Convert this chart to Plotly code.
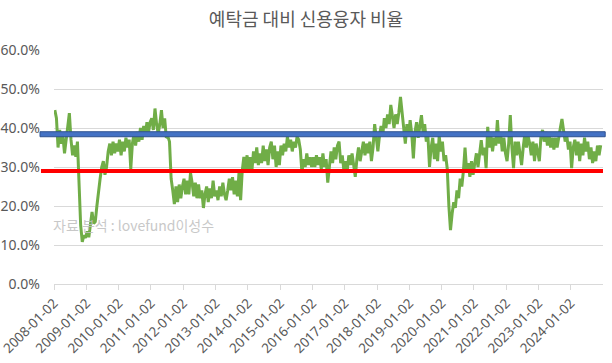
import plotly.graph_objects as go
import pandas as pd

# ---- data (credit loan / customer deposit ratio, %) ----
title_text = "예탁금 대비 신용융자 비율"
source_text = "자료 분석 : lovefund이성수"

tick_labels = ["2008-01-02", "2009-01-02", "2010-01-02", "2011-01-02", "2012-01-02",
               "2013-01-02", "2014-01-02", "2015-01-02", "2016-01-02", "2017-01-02",
               "2018-01-02", "2019-01-02", "2020-01-02", "2021-01-02", "2022-01-02",
               "2023-01-02", "2024-01-02"]

ratio_2008 = [44.6, 42.5, 35, 39.5, 36, 38, 33.5, 36.5, 40.8, 43.8, 37, 33, 35.5, 32.6, 36.5, 25, 15, 10.8, 12.5, 11.8]
ratio_2009 = [13.5, 12, 15, 18.5, 15.5, 16, 20, 24, 27, 30, 31.5, 28, 30, 34, 36, 33, 36.5, 33.5, 36, 34]
ratio_2010 = [37, 33, 36.5, 34, 37.5, 35, 37, 29.5, 36, 38.5, 35.5, 39, 36.5, 40, 37, 40.5, 38, 41.5, 39, 41.5]
ratio_2011 = [42.5, 39.5, 45, 41, 38.5, 41, 44.6, 40, 42.5, 37.5, 37.8, 36.5, 27, 24, 20.5, 25, 21, 25.5, 22, 25]
ratio_2012 = [27, 23, 26.5, 23, 28.5, 26, 22.5, 26, 22, 25.5, 22, 24, 19.5, 23, 25, 21, 24.5, 22, 26.5, 22.5]
ratio_2013 = [24, 21.5, 25, 22.5, 26, 23, 21.5, 24, 27, 24, 27.4, 23, 26.5, 22.5, 28.5, 21.5, 29, 32.6, 29.5, 33]
ratio_2014 = [28.5, 32.5, 29, 34, 31, 35, 30.5, 33.5, 31, 35.5, 31.5, 34.5, 30.5, 35, 36.5, 32, 35.5, 30, 34, 30.5]
ratio_2015 = [35.5, 33, 36, 34, 37.8, 35, 37, 34, 36.5, 35, 37.8, 37, 34.5, 28.5, 32, 30, 33.5, 30.5, 32.5, 30]
ratio_2016 = [32.5, 30, 33, 30.5, 32.5, 29.5, 33.5, 30, 32, 26, 30.5, 34, 31, 35, 32, 35.5, 36.5, 31, 33, 29]
ratio_2017 = [31.5, 29, 33, 30.5, 33.5, 31, 27.5, 32, 35, 31.5, 34.5, 36.5, 33, 36, 33.5, 36.5, 31.5, 35, 41, 37]
ratio_2018 = [34, 38, 40.5, 38, 42.5, 40, 43.5, 41, 45.9, 43, 40, 43.5, 41, 44, 48, 44, 39, 36, 41, 38]
ratio_2019 = [42, 38.5, 32.2, 39, 41.5, 37.5, 40.5, 43.3, 39, 41, 36.5, 38, 30, 35, 37.5, 32, 36, 31.5, 38, 34]
ratio_2020 = [36.5, 31.5, 33, 29.5, 20, 13.8, 18, 21, 19.5, 24, 22, 27, 25, 29, 35, 29, 31, 27.5, 31.5, 28]
ratio_2021 = [31, 33.5, 30, 34, 36.9, 33, 35, 29.7, 40.3, 35, 38, 34, 37.5, 35.5, 42, 36, 38.5, 34, 37.5, 33.5]
ratio_2022 = [31.5, 36, 43.3, 35, 29.7, 36.5, 33, 36.5, 34, 30.5, 35, 38.5, 35, 38, 36, 33, 36.5, 31.5, 36, 33.5]
ratio_2023 = [31.5, 38, 39.5, 36.5, 39, 35.5, 38.5, 35, 37.5, 34.5, 37.5, 35, 38, 40, 42.3, 39, 36.5, 38, 34.5, 36.5]
ratio_2024 = [29.7, 35, 37, 33, 36.5, 31.5, 36, 33, 37.5, 34, 36.5, 32, 35, 31, 34, 31.5, 35.5, 33, 35.6]

yearly = [ratio_2008, ratio_2009, ratio_2010, ratio_2011, ratio_2012, ratio_2013,
          ratio_2014, ratio_2015, ratio_2016, ratio_2017, ratio_2018, ratio_2019,
          ratio_2020, ratio_2021, ratio_2022, ratio_2023, ratio_2024]

upper_level = 38.4   # blue reference line (%)
lower_level = 29.0   # red reference line (%)

# ---- build series ----
dates, values = [], []
for label, vals in zip(tick_labels, yearly):
    start = pd.Timestamp(label)
    step = pd.Timedelta(days=365.25 / 20)
    for i, v in enumerate(vals):
        dates.append(start + step * (i + 0.5))
        values.append(v / 100)

fig = go.Figure()
fig.add_trace(go.Scatter(
    x=dates, y=values, mode="lines",
    line=dict(color="#70AD47", width=3),
    hoverinfo="skip", showlegend=False,
))

fig.add_shape(type="rect", xref="paper", yref="y",
              x0=-0.0255, x1=1.004, ysizemode="pixel", yanchor=upper_level / 100,
              y0=-2.5, y1=2.5, fillcolor="#4472C4",
              line=dict(color="#2F528F", width=1), layer="above")
fig.add_shape(type="line", xref="paper", yref="y",
              x0=-0.0237, x1=1.0, y0=lower_level / 100, y1=lower_level / 100,
              line=dict(color="#FF0000", width=4), layer="above")

fig.add_annotation(text=source_text, xref="paper", yref="paper",
                   x=-0.005, y=0.252, xanchor="left", yanchor="middle",
                   showarrow=False, opacity=0.85,
                   font=dict(family="Noto Sans CJK KR", size=14, color="#BFBFBF"))

fig.update_layout(
    width=612, height=363,
    margin=dict(l=54, r=9, t=50, b=79),
    paper_bgcolor="white", plot_bgcolor="white",
    title=dict(text=title_text, x=0.5, xanchor="center", y=0.945, yanchor="middle",
               font=dict(family="Noto Sans CJK KR", size=18, color="#595959")),
    font=dict(family="Noto Sans", size=14, color="#595959"),
)
fig.update_xaxes(
    type="date", automargin=False, ticklabeloverflow="allow",
    range=["2008-01-01 18:00", "2024-12-31"],
    tickvals=tick_labels, ticktext=tick_labels,
    tickangle=-45,
    showgrid=False, zeroline=False,
    showline=True, linecolor="#D9D9D9", linewidth=1,
    ticks="outside", ticklen=5, tickcolor="#D9D9D9",
    tickfont=dict(family="Noto Sans", size=13.5, color="#595959"),
)
fig.update_yaxes(
    range=[0, 0.6], dtick=0.1, tickformat=".1%", automargin=False,
    showgrid=True, gridcolor="#D9D9D9", gridwidth=1,
    zeroline=False, showline=False,
    ticklabelstandoff=13,
    tickfont=dict(family="Noto Sans", size=14, color="#595959"),
)

fig.write_html("out.html", config={"displayModeBar": False},
               post_script="document.body.style.margin='0px';document.body.style.overflow='hidden';")
